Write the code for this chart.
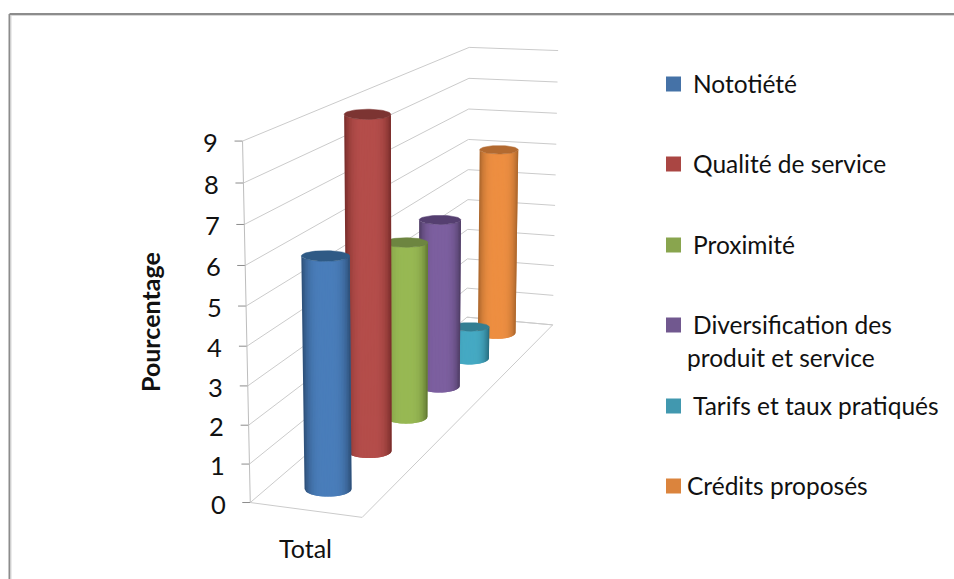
import numpy as np, plotly.graph_objects as go

W, H = 954, 579

categories = ["Total"]
series = ["Nototiété", "Qualité de service", "Proximité", "Diversification des", "Tarifs et taux pratiqués", "Crédits proposés"]
series_line2 = [None, None, None, "produit et service", None, None]
values = [6, 9, 5, 5, 1, 6]
ticks = list(range(10))

side = ["#4a7ebb", "#b54e4b", "#98b954", "#7d60a0", "#46aac4", "#ee8f42"]
edge = ["#2c4d75", "#772c2a", "#5f7530", "#4d3b62", "#276a7c", "#a8652c"]
cap = ["#2f5a85", "#7c3432", "#6d8540", "#553f70", "#337e92", "#b36a30"]
swatch = ["#4572a7", "#aa4643", "#89a54e", "#71588f", "#4198af", "#db843d"]
GRID = "#cbcbcb"
FONT = "Lato"
INK = "#111111"

# Projection of the 3D chart box (width 0-1, series depth 0-6, value 0-9) onto the page
calibration = [((0, 0, 0), (250, 502)), ((1, 0, 0), (362, 518)), ((1, 6, 0), (552, 324)), ((0, 6, 0), (468, 318)),
               ((0, 0, 9), (243, 141)), ((0, 6, 9), (468, 47)), ((1, 6, 9), (559, 51))]
A = []
b = []
for (x, y, z), (u, v) in calibration:
    A.append([x, y, z, 1, 0, 0, 0, 0, -u*x, -u*y, -u*z]); b.append(u)
    A.append([0, 0, 0, 0, x, y, z, 1, -v*x, -v*y, -v*z]); b.append(v)
M = np.append(np.linalg.lstsq(np.array(A, float), np.array(b, float), rcond=None)[0], 1.0).reshape(3, 4)

def P(x, y, z):
    q = M @ np.array([x, y, z, 1.0])
    return q[0]/q[2], q[1]/q[2]

fig = go.Figure()

def seg(pts, color=GRID, w=1):
    xs = [p[0] for p in pts]
    ys = [p[1] for p in pts]
    fig.add_trace(go.Scatter(x=xs, y=ys, mode="lines", line=dict(color=color, width=w), hoverinfo="skip", showlegend=False))

for z in ticks:
    seg([P(0, 0, z), P(0, 6, z), P(1, 6, z)])
    p = P(0, 0, z)
    seg([(p[0]-8, p[1]), p], "#8c8c8c", 1)
seg([P(0, 0, 0), P(0, 0, 9)], "#bdbdbd", 1)
seg([P(0, 0, 0), P(1, 0, 0), P(1, 6, 0), P(0, 6, 0)])

XC = 0.5
RX = 0.215
E_TOP = 0.11
E_BASE = 0.16
N = 30

def hex2(c):
    return np.array([int(c[i:i+2], 16) for i in (1, 3, 5)], float)

def mix(a, b, t):
    c = hex2(a)*(1-t)+hex2(b)*t
    return "rgb(%d,%d,%d)" % tuple(c)

for i in range(len(values)-1, -1, -1):
    v = values[i]
    y = i+0.5
    b0, t0 = P(XC, y, 0), P(XC, y, v)
    hb = (P(XC+RX, y, 0)[0]-P(XC-RX, y, 0)[0])/2
    ht = (P(XC+RX, y, v)[0]-P(XC-RX, y, v)[0])/2
    us = np.linspace(-1, 1, N+1)
    for k, (a, c) in enumerate(zip(us[:-1], us[1:])):
        m = (a+c)/2
        col = mix(side[i], edge[i], min(1, abs(m)**3.5))
        right = us[min(k+2, N)]
        ss = np.linspace(a, right, 5)
        xb = b0[0]+hb*ss
        yb = b0[1]+E_BASE*hb*2*np.sqrt(np.clip(1-ss**2, 0, 1))
        xt = t0[0]+ht*ss
        yt = t0[1]+E_TOP*ht*2*np.sqrt(np.clip(1-ss**2, 0, 1))
        fig.add_trace(go.Scatter(x=list(xb)+list(xt[::-1])+[xb[0]], y=list(yb)+list(yt[::-1])+[yb[0]], mode="lines",
                                 fill="toself", fillcolor=col, line=dict(width=0), hoverinfo="skip", showlegend=False))
    th = np.linspace(0, 2*np.pi, 61)
    fig.add_trace(go.Scatter(x=t0[0]+ht*np.cos(th), y=t0[1]+E_TOP*ht*2*np.sin(th), mode="lines", fill="toself",
                             fillcolor=cap[i], line=dict(color=cap[i], width=0.5), name=series[i], hoverinfo="name", showlegend=False))

ann = []
def T(x, y, s, size=24.5, **k):
    w = k.pop("weight", 400)
    ann.append(dict(x=x, y=y, xref="x", yref="y", text=s, showarrow=False,
                    font=dict(family=FONT, size=size, color=INK, weight=w), **k))

lx = [691, 691, 691, 691, 691, 685]
ly = [84, 164, 245, 325, 406, 486]
for s, s2, x, y in zip(series, series_line2, lx, ly):
    T(x, y-1, s, xanchor="left", yanchor="middle")
    if s2:
        T(685, y+32, s2, xanchor="left", yanchor="middle")
for tk in ticks:
    p = P(0, 0, tk)
    T(p[0]-32, p[1]+1, str(tk), size=25.5, xanchor="center", yanchor="middle")
T(150, 322, "Pourcentage", size=25, xanchor="center", yanchor="middle", textangle=-90, weight=700)
T(305, 548, categories[0], size=25, xanchor="center", yanchor="middle")

def frame(x0, y0, x1, y1, c, w):
    return dict(type="line", xref="x", yref="y", x0=x0, y0=y0, x1=x1, y1=y1, line=dict(color=c, width=w))
shapes = [frame(9.5, 14, 9.5, 579, "#8c8c8c", 2), frame(9.5, 14, 954, 14, "#8c8c8c", 2),
          frame(11, 15.5, 11, 579, "#d8d8d8", 1), frame(11, 15.5, 954, 15.5, "#d8d8d8", 1)]
for c, y in zip(swatch, ly):
    shapes.append(dict(type="rect", xref="x", yref="y", x0=666, x1=681, y0=y-7.5, y1=y+7.5, fillcolor=c, line=dict(width=0)))

fig.update_layout(width=W, height=H, margin=dict(l=0, r=0, t=0, b=0), paper_bgcolor="white", plot_bgcolor="white",
                  annotations=ann, shapes=shapes, showlegend=False,
                  xaxis=dict(visible=False, range=[0, W], fixedrange=True),
                  yaxis=dict(visible=False, range=[H, 0], fixedrange=True))
fig.write_html("out.html", config=dict(displayModeBar=False),
               post_script="document.body.style.margin='0';document.body.style.overflow='hidden';")
